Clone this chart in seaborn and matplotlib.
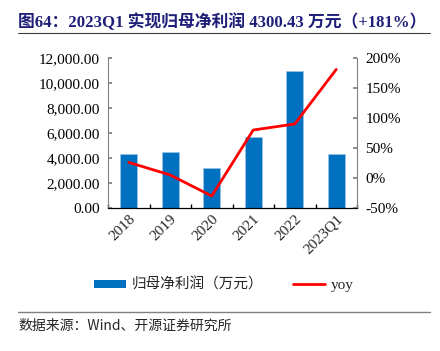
import matplotlib
matplotlib.use("Agg")
import matplotlib.pyplot as plt
import seaborn as sns
import pandas as pd
import numpy as np
from matplotlib.lines import Line2D
from matplotlib.patches import Patch
from matplotlib.ticker import FuncFormatter, MultipleLocator

categories = ["2018", "2019", "2020", "2021", "2022", "2023Q1"]
profit = [4350, 4510, 3195, 5720, 10925, 4300.43]
yoy = [26, 5, -30, 80, 90, 181]
title = "图64：2023Q1 实现归母净利润 4300.43 万元（+181%）"
source = "数据来源：Wind、开源证券研究所"
bar_label = "归母净利润（万元）"
line_label = "yoy"

sns.set_theme(style="white")
CJK = ["Noto Sans CJK SC", "DejaVu Sans"]
SERIF = ["Liberation Serif", "Noto Sans CJK SC"]
plt.rcParams["font.family"] = SERIF

df = pd.DataFrame({"cat": categories, "profit": profit, "yoy": yoy})

fig = plt.figure(figsize=(4.4, 3.51), dpi=100)
ax = fig.add_axes([108/440, 1-208/351, (357-108)/440, (208-58)/351])

sns.barplot(data=df, x="cat", y="profit", color="#0070C0", width=0.4,
            saturation=1, ax=ax, edgecolor="#9DC3E6", linewidth=0.5)
ax.set_ylim(0, 12000)
ax.yaxis.set_major_locator(MultipleLocator(2000))
ax.yaxis.set_major_formatter(FuncFormatter(lambda v, p: f"{v:,.2f}"))
ax.set_xlabel("")
ax.set_ylabel("")
ax.set_xlim(-0.5, 5.5)

ax2 = ax.twinx()
sns.lineplot(x=np.arange(len(categories)), y=df["yoy"], color="#FF0000",
             linewidth=2, ax=ax2, legend=False)
ax2.set_ylim(-50, 200)
ax2.yaxis.set_major_locator(MultipleLocator(50))
ax2.yaxis.set_major_formatter(FuncFormatter(lambda v, p: f"{v:.0f}%"))
ax2.set_ylabel("")
ax2.set_xlim(-0.5, 5.5)

for a in (ax, ax2):
    a.spines["top"].set_visible(False)
    a.spines["left"].set_color("#808080")
    a.spines["right"].set_color("#808080")
    a.spines["bottom"].set_color("black")
    for s in ("left", "right", "bottom"):
        a.spines[s].set_linewidth(0.8)
    a.grid(False)

ax.spines["right"].set_visible(False)
ax2.spines["left"].set_visible(False)

ax.tick_params(axis="y", direction="in", length=3, colors="#808080",
               labelcolor="black", labelsize=11, left=True, pad=6)
ax2.tick_params(axis="y", direction="in", length=3, colors="#808080",
                labelcolor="black", labelsize=11, right=True, pad=6)
ax.set_xticks(np.arange(-0.5, 5.6, 1), minor=True)
ax.tick_params(axis="x", which="minor", direction="in", length=3, bottom=True, color="black")
ax.tick_params(axis="x", which="major", length=0, labelsize=11, pad=3)
for lbl in ax.get_xticklabels():
    lbl.set_rotation(45)
    lbl.set_ha("right")
    lbl.set_rotation_mode("anchor")
ax2.tick_params(axis="x", bottom=False, labelbottom=False)

# Title
fig.text(18/440, 1-22/351, title, fontsize=12.1, fontweight="bold",
         color="#1F1F7A", family=["Liberation Serif", "Noto Sans CJK SC"],
         va="center", ha="left")
fig.add_artist(Line2D([18/440, 430/440], [1-33/351, 1-33/351],
                      color="#404040", linewidth=0.8))

# Legend
handles = [Patch(facecolor="#0070C0", edgecolor="none"),
           Line2D([0], [0], color="#FF0000", linewidth=2)]
leg = fig.legend(handles, [bar_label, line_label], loc="center",
                 bbox_to_anchor=(224/440, 1-285/351), ncol=2, frameon=False,
                 handlelength=2.2, handleheight=0.5, columnspacing=2.0,
                 handletextpad=0.4,
                 prop={"family": CJK, "size": 10.5})
for t in leg.get_texts():
    if t.get_text() == "yoy":
        t.set_fontfamily("Liberation Serif")
        t.set_fontsize(11)

fig.add_artist(Line2D([18/440, 430/440], [1-312/351, 1-312/351],
                      color="#808080", linewidth=1))
fig.text(18/440, 1-326/351, source, fontsize=10,
         family=["Noto Sans CJK SC", "Liberation Serif"], va="center", ha="left")

fig.savefig("out.png", dpi=100)
